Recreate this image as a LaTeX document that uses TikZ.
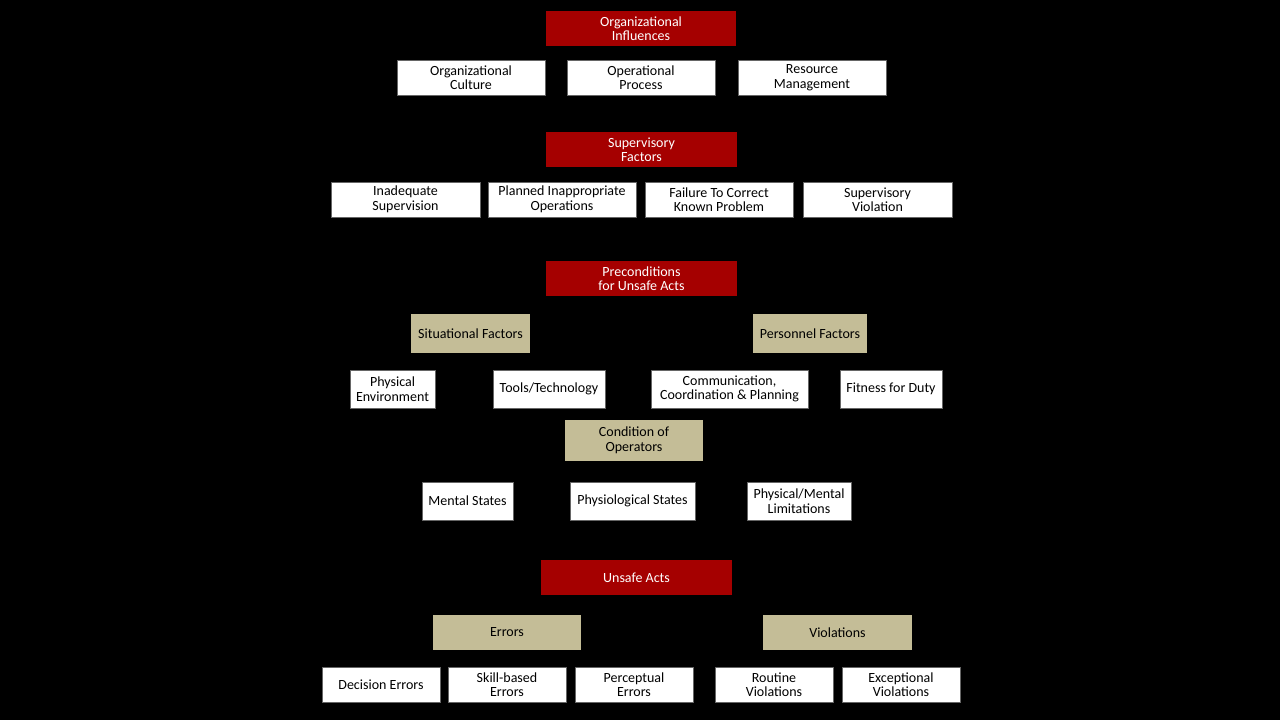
\documentclass[tikz,border=0pt]{standalone}
\usepackage{fontspec}
\setmainfont{Carlito}
\definecolor{rd}{HTML}{A50000}
\definecolor{tn}{HTML}{C4BD97}
\newcommand{\bx}[7]{\node[#6,minimum width={(#4-#2)*1pt},minimum height={(#5-#3)*1pt}] (#1) at ({(#2+#4)/2},{(#3+#5)/2}) {#7};}
\begin{document}
\begin{tikzpicture}[x=1pt,y=-1pt,
 base/.style={inner sep=0pt,align=center,font=\fontsize{14}{14.5}\selectfont},
 red/.style={base,fill=rd,text=white},
 tan/.style={base,fill=tn,text=black},
 wh/.style={base,fill=white,text=black,draw=black!60,line width=0.4pt}]
\fill[black] (0,0) rectangle (1280,720);
\useasboundingbox (0,0) rectangle (1280,720);
\bx{oi}{546}{11}{736}{46}{red}{Organizational\\Influences}
\bx{oc}{397}{60}{545}{95}{wh}{Organizational\\Culture}
\bx{op}{567}{60}{715}{95}{wh}{Operational\\Process}
\bx{rm}{738}{60}{886}{95}{wh}{Resource\\Management}
\bx{sf}{546}{132}{737}{167}{red}{Supervisory\\Factors}
\bx{is}{331}{182}{480}{217}{wh}{Inadequate\\Supervision}
\bx{pi}{488}{182}{636}{217}{wh}{Planned Inappropriate\\Operations}
\bx{fc}{645}{182}{793}{217}{wh}{Failure To Correct\\Known Problem}
\bx{sv}{803}{182}{952}{217}{wh}{Supervisory\\Violation}
\bx{pu}{546}{261}{737}{296}{red}{Preconditions\\for Unsafe Acts}
\bx{sit}{411}{314}{530}{353}{tan}{Situational Factors}
\bx{per}{753}{314}{867}{353}{tan}{Personnel Factors}
\bx{pe}{350}{370}{435}{408}{wh}{Physical\\Environment}
\bx{tt}{493}{370}{605}{408}{wh}{Tools/Technology}
\bx{cc}{651}{370}{808}{408}{wh}{Communication,\\Coordination \& Planning}
\bx{fd}{840}{370}{942}{408}{wh}{Fitness for Duty}
\bx{co}{565}{420}{703}{461}{tan}{Condition of\\Operators}
\bx{ms}{422}{482}{513}{520}{wh}{Mental States}
\bx{ps}{570}{482}{695}{520}{wh}{Physiological States}
\bx{pm}{747}{482}{851}{520}{wh}{Physical/Mental\\Limitations}
\bx{ua}{541}{560}{732}{595}{red}{Unsafe Acts}
\bx{er}{433}{615}{581}{650}{tan}{Errors}
\bx{vi}{763}{615}{912}{650}{tan}{Violations}
\bx{de}{322}{667}{440}{702}{wh}{Decision Errors}
\bx{sb}{448}{667}{566}{702}{wh}{Skill-based\\Errors}
\bx{pc}{575}{667}{693}{702}{wh}{Perceptual\\Errors}
\bx{rv}{715}{667}{833}{702}{wh}{Routine\\Violations}
\bx{ev}{842}{667}{960}{702}{wh}{Exceptional\\Violations}
\end{tikzpicture}
\end{document}
